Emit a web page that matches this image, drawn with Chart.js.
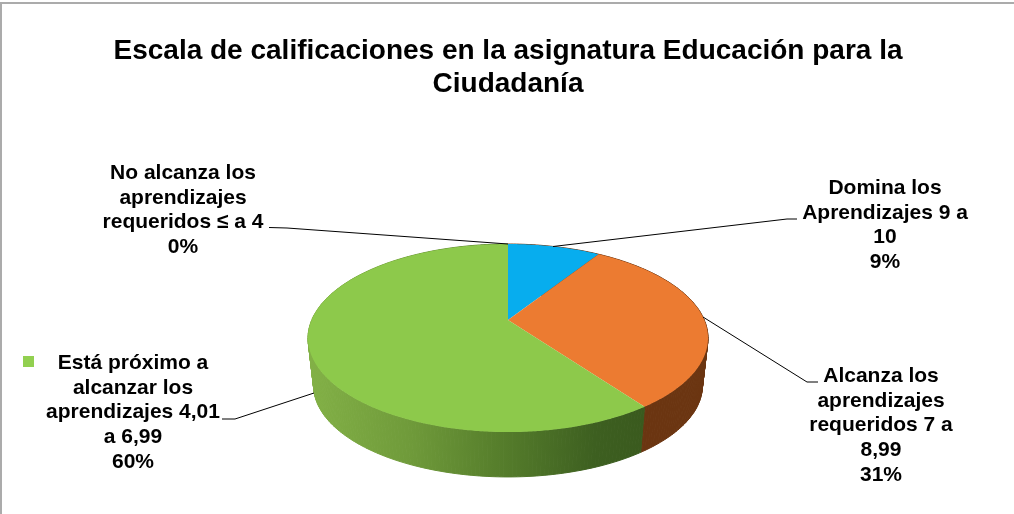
<!DOCTYPE html>
<html>
<head>
<meta charset="utf-8">
<style>html,body{margin:0;padding:0;background:#fff}canvas{display:block}</style>
<script src="https://cdn.jsdelivr.net/npm/chart.js@4/dist/chart.umd.js"></script>
</head>
<body>
<canvas id="c" width="1014" height="514"></canvas>
<script>
const categories = [
  "Domina los Aprendizajes 9 a 10",
  "Alcanza los aprendizajes requeridos 7 a 8,99",
  "Está próximo a alcanzar los aprendizajes 4,01 a 6,99",
  "No alcanza los aprendizajes requeridos ≤ a 4"
];
const percentages = [9, 31, 60, 0];
const topColors = ["#07ADEE", "#EC7B31", "#8DC94B", "#5B9BD5"];
const titleLines = ["Escala de calificaciones en la asignatura Educación para la", "Ciudadanía"];
const labelLines = [
  ["Domina los", "Aprendizajes 9 a", "10"],
  ["Alcanza los", "aprendizajes", "requeridos 7 a", "8,99"],
  ["Está próximo a", "alcanzar los", "aprendizajes 4,01", "a 6,99"],
  ["No alcanza los", "aprendizajes", "requeridos ≤ a 4"]
];

// Presentation only
const sideStops = [
  [[0, "#8a4a1c"], [1, "#6b3511"]],
  [[0, "#8a4a1c"], [1, "#6b3511"]],
  [[0, "#82b046"], [0.3, "#6f9a3a"], [0.55, "#577f2c"], [0.85, "#3d5f20"], [1, "#3a5a1e"]],
  [[0, "#3d6f9e"], [1, "#3d6f9e"]]
];
const labelLayout = [
  { cx: 885, y: 188, leader: [[797, 219], [787, 219], [553, 246.5]] },
  { cx: 881, y: 376, leader: [[818, 382], [807, 382], [703, 317]] },
  { cx: 133, y: 363, leader: [[222, 419], [235, 419], [314, 393]] },
  { cx: 183, y: 173, leader: [[269, 227.5], [287, 228], [508, 244]] }
];
const view = { sx: 1.309, sy: 0.604, k: -0.1915, depth: 48, shrink: 0.972 };

function project(arc, angle, lower) {
  const u = Math.cos(angle), v = Math.sin(angle);
  const R = arc.outerRadius, w = 1 + view.k * v;
  const s = lower ? view.shrink : 1;
  return [
    arc.x + s * view.sx * R * u / w,
    arc.y + s * view.sy * R * v / w + (lower ? view.depth : 0)
  ];
}

const pie3d = {
  id: "pie3d",
  beforeDatasetsDraw(chart) {
    const ctx = chart.ctx;
    const meta = chart.getDatasetMeta(0);
    const colors = chart.data.datasets[0].backgroundColor;
    const step = Math.PI / 180;
    // side wall
    meta.data.forEach((arc, i) => {
      if (arc.endAngle - arc.startAngle <= 0) return;
      const R = arc.outerRadius;
      const g = ctx.createLinearGradient(arc.x - view.sx * R, 0, arc.x + view.sx * R * 0.7, 0);
      const own = sideStops[i];
      if (i === 2) own.forEach(s => g.addColorStop(s[0], s[1]));
      else { g.addColorStop(0, own[0][1]); g.addColorStop(1, own[1][1]); }
      ctx.fillStyle = g; ctx.strokeStyle = g; ctx.lineWidth = 1;
      for (let a = arc.startAngle; a < arc.endAngle; a += step) {
        const b = Math.min(a + step, arc.endAngle);
        const p = [project(arc, a), project(arc, b), project(arc, b, true), project(arc, a, true)];
        ctx.beginPath();
        p.forEach((q, n) => n ? ctx.lineTo(q[0], q[1]) : ctx.moveTo(q[0], q[1]));
        ctx.closePath(); ctx.fill(); ctx.stroke();
      }
    });
    // top face
    meta.data.forEach((arc, i) => {
      if (arc.endAngle - arc.startAngle <= 0) return;
      ctx.beginPath();
      ctx.moveTo(arc.x, arc.y);
      for (let a = arc.startAngle; a < arc.endAngle; a += step / 2) {
        const q = project(arc, a); ctx.lineTo(q[0], q[1]);
      }
      const e = project(arc, arc.endAngle); ctx.lineTo(e[0], e[1]);
      ctx.closePath();
      ctx.fillStyle = colors[i]; ctx.fill();
    });
    return false;
  },
  afterDraw(chart) {
    const ctx = chart.ctx;
    // frame
    ctx.strokeStyle = "#ababab"; ctx.lineWidth = 2;
    ctx.beginPath(); ctx.moveTo(1, 514); ctx.lineTo(1, 3); ctx.lineTo(1014, 3); ctx.stroke();
    // leaders
    ctx.strokeStyle = "#000"; ctx.lineWidth = 1;
    labelLayout.forEach(l => {
      ctx.beginPath();
      l.leader.forEach((q, n) => n ? ctx.lineTo(q[0], q[1]) : ctx.moveTo(q[0], q[1]));
      ctx.stroke();
    });
    // labels
    ctx.fillStyle = "#000";
    ctx.font = "bold 21px 'Liberation Sans'";
    ctx.textAlign = "center"; ctx.textBaseline = "middle";
    labelLayout.forEach((l, i) => {
      const lines = labelLines[i].concat(percentages[i] + "%");
      lines.forEach((t, n) => ctx.fillText(t, l.cx, l.y + n * 24.75));
    });
    // legend key
    ctx.fillStyle = "#92D050";
    ctx.fillRect(23, 356, 11, 11);
  }
};

new Chart(document.getElementById("c"), {
  type: "pie",
  data: {
    labels: categories,
    datasets: [{ data: percentages, backgroundColor: topColors, borderWidth: 0 }]
  },
  options: {
    responsive: false,
    devicePixelRatio: 1,
    animation: false,
    layout: { padding: { left: 2, right: 0, top: 0, bottom: 44 } },
    plugins: {
      legend: { display: false },
      tooltip: { enabled: false },
      title: {
        display: true,
        text: titleLines,
        color: "#000",
        font: { family: "'Liberation Sans'", size: 28, weight: "bold", lineHeight: 1.18 },
        padding: { top: 35, bottom: 69 }
      }
    }
  },
  plugins: [pie3d]
});
</script>
</body>
</html>
